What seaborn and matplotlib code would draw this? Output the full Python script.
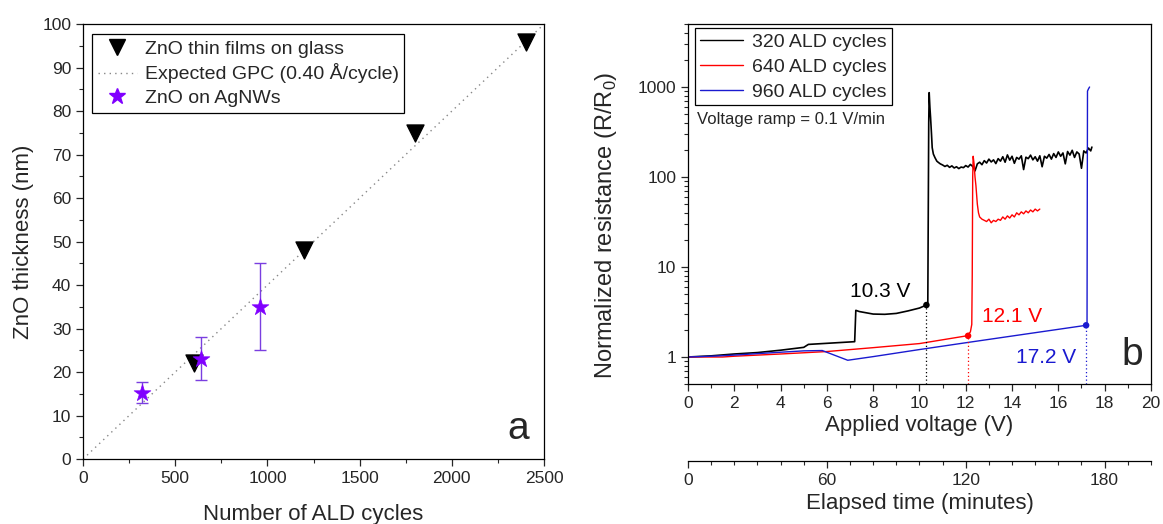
import pandas as pd
import seaborn as sns
import matplotlib.pyplot as plt
from matplotlib.lines import Line2D
from matplotlib.ticker import MultipleLocator, LogLocator, NullFormatter

sns.set_style("ticks")
plt.rcParams['font.family'] = ['Liberation Sans', 'DejaVu Sans']
plt.rcParams['mathtext.fontset'] = 'custom'
plt.rcParams['mathtext.rm'] = 'Liberation Sans'
plt.rcParams['xtick.direction'] = 'out'
plt.rcParams['ytick.direction'] = 'out'

# ---- panel a data ----
glass_cycles = [600, 1200, 1800, 2400]
glass_thickness = [22, 48, 75, 96]
gpc_cycles = [0, 2500]
gpc_thickness = [0, 100]
agnw_cycles = [320, 640, 960]
agnw_thickness = [15.2, 23.1, 35.0]
agnw_err = [2.4, 5.0, 10.0]

# ---- panel b data ----
v320 = [0.0, 1.0, 2.0, 3.0, 4.0, 5.0, 5.2, 7.2, 7.25, 7.4, 8.0, 8.5, 9.0, 9.5, 10.0, 10.3,
        10.36, 10.4, 10.42, 10.45, 10.48, 10.52, 10.55, 10.6, 10.67, 10.75, 10.82,
        10.9, 11.0, 11.1, 11.2, 11.3, 11.4, 11.5, 11.6, 11.7, 11.8, 11.9, 12.0, 12.1, 12.2,
        12.3, 12.4, 12.5, 12.6, 12.7, 12.8, 12.9, 13.0, 13.1, 13.2, 13.3, 13.4, 13.5, 13.6,
        13.7, 13.8, 13.9, 14.0, 14.1, 14.2, 14.3, 14.4, 14.5, 14.6, 14.7, 14.8, 14.9, 15.0,
        15.1, 15.2, 15.3, 15.4, 15.5, 15.6, 15.7, 15.8, 15.9, 16.0, 16.1, 16.2, 16.3, 16.4,
        16.5, 16.6, 16.7, 16.8, 16.9, 17.0, 17.1, 17.2, 17.3, 17.4, 17.45]
r320 = [1.0, 1.03, 1.08, 1.12, 1.19, 1.28, 1.38, 1.48, 3.3, 3.2, 3.0, 2.98, 3.05, 3.25, 3.5, 3.78,
        3.9, 400, 866, 600, 456, 300, 212, 180, 164, 150, 145,
        140, 136, 131, 135, 128, 133, 126, 130, 124, 129, 127, 134, 129, 138,
        131, 117, 140, 146, 137, 152, 143, 158, 147, 155, 141, 160, 150, 168,
        146, 176, 154, 170, 142, 165, 158, 172, 121, 166, 160, 175, 155, 168,
        150, 172, 130, 170, 162, 178, 158, 182, 165, 190, 170, 185, 140, 192,
        175, 198, 165, 190, 180, 125, 195, 185, 210, 195, 215]

v640 = [0.0, 1.5, 2.0, 4.0, 6.0, 8.0, 10.0, 12.05, 12.2, 12.26, 12.28, 12.3, 12.32, 12.36,
        12.4, 12.44, 12.5, 12.55, 12.6, 12.7, 12.8, 12.9, 13.0, 13.1, 13.2, 13.3, 13.4, 13.5,
        13.6, 13.7, 13.8, 13.9, 14.0, 14.1, 14.2, 14.3, 14.4, 14.5, 14.6, 14.7, 14.8, 14.9,
        15.0, 15.1, 15.2]
r640 = [1.0, 1.0, 1.02, 1.08, 1.15, 1.27, 1.41, 1.72, 1.9, 2.3, 8, 100, 170, 140,
        100, 80, 50, 40, 36, 34, 33, 32, 34, 31, 33, 32, 34, 33,
        36, 34, 37, 35, 38, 36, 40, 38, 41, 39, 42, 40, 43, 41,
        44, 42, 44]

v960 = [0.0, 1.0, 2.0, 3.0, 4.0, 5.0, 5.8, 6.9, 8.0, 10.0, 12.0, 14.0, 16.0, 17.2,
        17.24, 17.26, 17.3, 17.35]
r960 = [1.0, 1.02, 1.05, 1.09, 1.13, 1.17, 1.18, 0.92, 1.01, 1.21, 1.44, 1.71, 2.03, 2.25,
        2.4, 900, 950, 1000]

onset_v = [10.3, 12.1, 17.2]
onset_r = [3.78, 1.72, 2.25]
onset_labels = ['10.3 V', '12.1 V', '17.2 V']
series_labels = ['320 ALD cycles', '640 ALD cycles', '960 ALD cycles']
series_colors = ['black', '#ff0000', '#1a1ad0']
series_widths = [1.2, 1.0, 1.0]

fig = plt.figure(figsize=(11.63, 5.24), dpi=100)

# ================= panel a =================
axL = fig.add_axes([0.0714, 0.124, 0.3964, 0.830])
sns.lineplot(x=gpc_cycles, y=gpc_thickness, ax=axL, color='#888888', lw=1,
             dashes=False, linestyle=(0, (1, 3)), zorder=1)
axL.errorbar(agnw_cycles, agnw_thickness, yerr=agnw_err, fmt='none', ecolor='#7a3ee0',
             elinewidth=1, capsize=4, capthick=1, zorder=2)
sns.scatterplot(x=glass_cycles, y=glass_thickness, ax=axL, marker='v', s=150,
                color='black', edgecolor='black', zorder=3)
sns.scatterplot(x=agnw_cycles, y=agnw_thickness, ax=axL, marker='*', s=160,
                color='#8000ff', edgecolor='#8000ff', linewidth=0.5, zorder=4)
axL.set_xlim(0, 2500)
axL.set_ylim(0, 100)
axL.xaxis.set_major_locator(MultipleLocator(500))
axL.xaxis.set_minor_locator(MultipleLocator(250))
axL.yaxis.set_major_locator(MultipleLocator(10))
axL.yaxis.set_minor_locator(MultipleLocator(5))
axL.set_xlabel('Number of ALD cycles', fontsize=16, labelpad=13)
axL.set_ylabel('ZnO thickness (nm)', fontsize=16, labelpad=6)
axL.text(2360, 7, 'a', fontsize=28, ha='center', va='center')
handlesL = [
    Line2D([], [], marker='v', color='black', linestyle='none', markersize=12),
    Line2D([], [], color='#888888', lw=1, linestyle=(0, (1, 3))),
    Line2D([], [], marker='*', color='#8000ff', linestyle='none', markersize=12),
]
labelsL = ['ZnO thin films on glass', 'Expected GPC (0.40 Å/cycle)', 'ZnO on AgNWs']
legL = axL.legend(handlesL, labelsL, loc='upper left', bbox_to_anchor=(0.0195, 0.977),
                  borderaxespad=0, fontsize=14, frameon=True, fancybox=False,
                  edgecolor='black', framealpha=1, labelspacing=0.3, borderpad=0.3,
                  handlelength=2.0, handletextpad=0.4)
legL.get_frame().set_linewidth(0.9)

# ================= panel b =================
axR = fig.add_axes([0.5916, 0.267, 0.398, 0.687])
for v, r, c, w in zip([v320, v640, v960], [r320, r640, r960], series_colors, series_widths):
    sns.lineplot(x=v, y=r, ax=axR, color=c, lw=w, sort=False, estimator=None)
axR.set_yscale('log')
axR.set_xlim(0, 20)
axR.set_ylim(0.5, 5000)
for v, r, c in zip(onset_v, onset_r, series_colors):
    axR.plot([v, v], [0.5, r], color=c, lw=0.9, linestyle=(0, (1, 2)))
sns.scatterplot(x=onset_v, y=onset_r, ax=axR, hue=series_labels, palette=series_colors,
                s=22, edgecolor='none', legend=False, zorder=5)
axR.text(8.3, 5.3, onset_labels[0], color=series_colors[0], fontsize=15, ha='center', va='center')
axR.text(14.0, 2.85, onset_labels[1], color=series_colors[1], fontsize=15, ha='center', va='center')
axR.text(15.45, 1.0, onset_labels[2], color=series_colors[2], fontsize=15, ha='center', va='center')
axR.text(19.2, 1.05, 'b', fontsize=28, ha='center', va='center')
axR.text(0.019, 0.736, 'Voltage ramp = 0.1 V/min', transform=axR.transAxes, fontsize=12,
         ha='left', va='center')
axR.xaxis.set_major_locator(MultipleLocator(2))
axR.xaxis.set_minor_locator(MultipleLocator(1))
axR.set_yticks([1, 10, 100, 1000])
axR.set_yticklabels(['1', '10', '100', '1000'])
axR.yaxis.set_minor_locator(LogLocator(base=10, subs=[2, 3, 4, 5, 6, 7, 8, 9]))
axR.yaxis.set_minor_formatter(NullFormatter())
axR.set_xlabel('Applied voltage (V)', fontsize=16, labelpad=3)
axR.set_ylabel('Normalized resistance (R/R$_0$)', fontsize=17, labelpad=6)
axR.yaxis.set_label_coords(-0.15, 0.44)
handlesR = [Line2D([], [], color=c, lw=1) for c in series_colors]
legR = axR.legend(handlesR, series_labels, loc='upper left', bbox_to_anchor=(0.015, 0.989),
                  borderaxespad=0, fontsize=14, frameon=True, fancybox=False,
                  edgecolor='black', framealpha=1, labelspacing=0.38, borderpad=0.25,
                  handlelength=2.2, handletextpad=0.5)
legR.get_frame().set_linewidth(0.9)

# secondary time axis (0.1 V/min ramp -> 0..200 min)
axT = fig.add_axes([0.5916, 0.12, 0.398, 0.001])
axT.set_facecolor('none')
for s in ['top', 'left', 'right']:
    axT.spines[s].set_visible(False)
axT.yaxis.set_visible(False)
axT.set_xlim(0, 200)
axT.xaxis.set_major_locator(MultipleLocator(60))
axT.xaxis.set_minor_locator(MultipleLocator(10))
axT.set_xlabel('Elapsed time (minutes)', fontsize=16, labelpad=4)

for ax in [axL, axR, axT]:
    ax.tick_params(which='major', length=5, width=0.9, labelsize=12.5)
    ax.tick_params(which='minor', length=3, width=0.8)
    for s in ax.spines.values():
        s.set_linewidth(0.9)
        s.set_color('black')

fig.savefig('out.png', dpi=100)
